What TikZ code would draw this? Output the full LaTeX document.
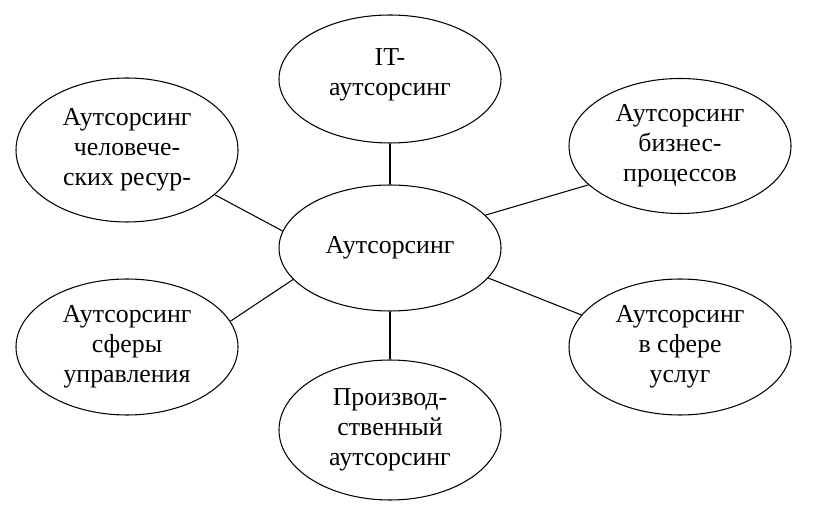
\documentclass[tikz,border=0pt]{standalone}
\usepackage{fontspec}
\setmainfont{Liberation Serif}
\usetikzlibrary{shapes.geometric}
\begin{document}
\begin{tikzpicture}[
    kind/.style={ellipse, draw, semithick, inner sep=0pt, align=center,
        minimum width=4.44cm, font=\fontsize{14.7}{17}\selectfont},
    link/.style={semithick}]
    \useasboundingbox (0,0) rectangle (16.32,10.48);
    % centre and the six kinds round it
    \node[kind, minimum height=2.52cm] (main) at (7.80,5.52) {Аутсорсинг};
    \node[kind, minimum height=2.56cm] (it) at (7.80,8.90) {IT-\\аутсорсинг\\[-9pt]};
    \node[kind, minimum height=2.88cm] (hr) at (2.54,7.48) {Аутсорсинг\\человече-\\ских ресур-};
    \node[kind, minimum height=2.70cm] (bp) at (13.60,7.56) {Аутсорсинг\\бизнес-\\процессов};
    \node[kind, minimum height=2.72cm] (mgmt) at (2.54,3.54) {Аутсорсинг\\сферы\\управления};
    \node[kind, minimum height=2.72cm] (serv) at (13.60,3.54) {Аутсорсинг\\в сфере\\услуг};
    \node[kind, minimum height=2.80cm] (prod) at (7.80,1.88) {Производ-\\ственный\\аутсорсинг};
    \draw[link] (main.north) -- (it.south);
    \draw[link] (main.south) -- (prod.north);
    \draw[link] (main.171) -- (hr.-27);
    \draw[link] (main.19) -- (bp.-157);
    \draw[link] (main.-162) -- (mgmt.14);
    \draw[link] (main.-17) -- (serv.162);
\end{tikzpicture}
\end{document}
